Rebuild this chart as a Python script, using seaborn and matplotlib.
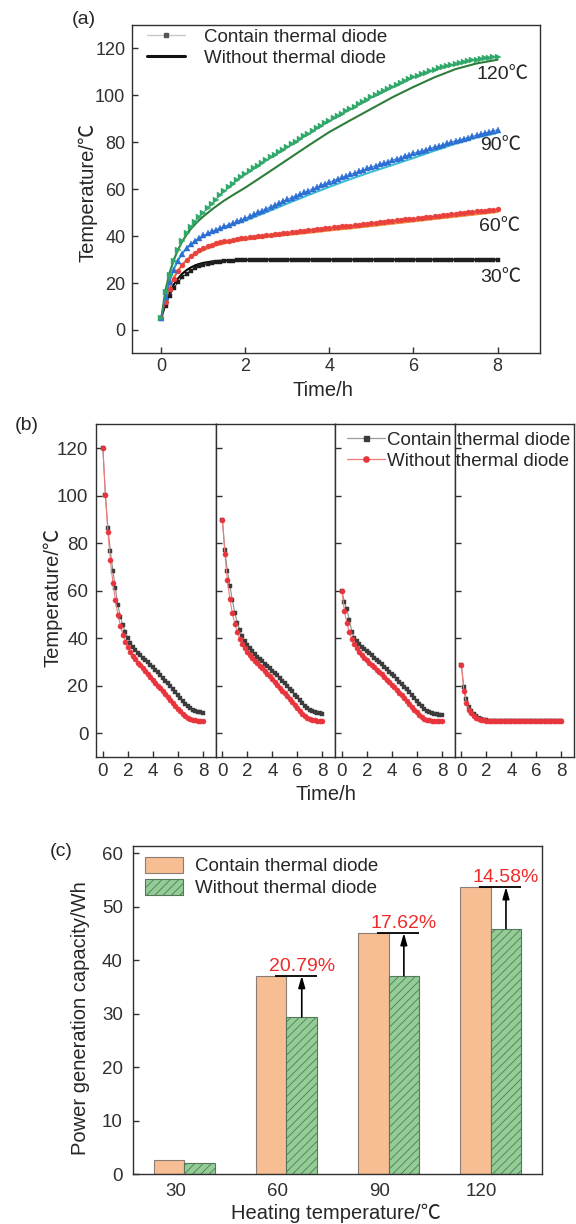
import numpy as np
import pandas as pd
import matplotlib
matplotlib.use("Agg")
import matplotlib.pyplot as plt
import matplotlib.transforms as mtransforms
from matplotlib.lines import Line2D
from matplotlib.patches import Patch
import seaborn as sns

sns.set_style("ticks")
plt.rcParams["font.family"] = ["Liberation Sans", "Noto Sans CJK SC", "DejaVu Sans"]
plt.rcParams["hatch.linewidth"] = 0.6
plt.rcParams["axes.edgecolor"] = "#303030"
plt.rcParams["axes.linewidth"] = 1.0
plt.rcParams["xtick.color"] = "#303030"
plt.rcParams["ytick.color"] = "#303030"

# ── (a) heating curves ──────────────────────────────────────────────────────
# markers: one point every 0.1 h from 0 to 8 h
a_contain_30 = [
    5.0, 10.3, 14.5, 17.8, 20.4, 22.4, 24.0, 25.3, 26.3, 27.1,
    27.7, 28.2, 28.6, 28.9, 29.1, 29.3, 29.4, 29.6, 29.7, 29.7,
    29.8, 29.8, 29.9, 29.9, 29.9, 29.9, 30.0, 30.0, 30.0, 30.0,
    30.0, 30.0, 30.0, 30.0, 30.0, 30.0, 30.0, 30.0, 30.0, 30.0,
    30.0, 30.0, 30.0, 30.0, 30.0, 30.0, 30.0, 30.0, 30.0, 30.0,
    30.0, 30.0, 30.0, 30.0, 30.0, 30.0, 30.0, 30.0, 30.0, 30.0,
    30.0, 30.0, 30.0, 30.0, 30.0, 30.0, 30.0, 30.0, 30.0, 30.0,
    30.0, 30.0, 30.0, 30.0, 30.0, 30.0, 30.0, 30.0, 30.0, 30.0,
    30.0,
]
a_contain_60 = [
    5.0, 11.9, 17.4, 21.7, 25.1, 27.8, 29.9, 31.6, 33.0, 34.1,
    35.0, 35.7, 36.4, 36.9, 37.4, 37.8, 38.1, 38.5, 38.8, 39.0,
    39.3, 39.5, 39.8, 40.0, 40.2, 40.4, 40.6, 40.8, 41.1, 41.3,
    41.5, 41.7, 41.9, 42.1, 42.3, 42.5, 42.7, 42.9, 43.1, 43.3,
    43.5, 43.7, 43.9, 44.1, 44.3, 44.5, 44.7, 44.9, 45.1, 45.3,
    45.5, 45.7, 45.9, 46.1, 46.3, 46.5, 46.7, 46.9, 47.1, 47.3,
    47.5, 47.7, 47.9, 48.1, 48.3, 48.5, 48.7, 48.9, 49.1, 49.3,
    49.5, 49.7, 49.9, 50.1, 50.3, 50.5, 50.7, 50.9, 51.1, 51.3,
    51.5,
]
a_contain_90 = [
    5.0, 14.0, 20.5, 25.5, 29.5, 32.5, 34.8, 36.6, 38.0, 39.2,
    40.3, 41.2, 42.0, 42.8, 43.5, 44.2, 44.9, 45.6, 46.3, 47.0,
    47.7, 48.5, 49.3, 50.1, 50.9, 51.7, 52.5, 53.3, 54.1, 54.9,
    55.7, 56.4, 57.2, 57.9, 58.6, 59.4, 60.1, 60.9, 61.6, 62.3,
    63.1, 63.7, 64.4, 65.0, 65.7, 66.3, 66.9, 67.6, 68.2, 68.9,
    69.5, 70.1, 70.6, 71.2, 71.8, 72.4, 73.0, 73.5, 74.1, 74.7,
    75.3, 75.8, 76.4, 76.9, 77.4, 78.0, 78.5, 79.0, 79.5, 80.1,
    80.6, 81.1, 81.6, 82.0, 82.5, 83.0, 83.5, 84.0, 84.4, 84.9,
    85.4,
]
a_contain_120 = [
    5.0, 16.0, 23.5, 29.3, 34.0, 38.0, 41.2, 43.9, 46.2, 48.2,
    50.0, 51.9, 53.8, 55.6, 57.4, 59.1, 60.8, 62.4, 63.9, 65.2,
    66.5, 67.7, 68.9, 70.1, 71.3, 72.4, 73.6, 74.7, 75.8, 76.9,
    78.0, 79.1, 80.3, 81.4, 82.5, 83.6, 84.8, 85.9, 87.0, 88.1,
    89.2, 90.2, 91.2, 92.2, 93.2, 94.2, 95.2, 96.2, 97.2, 98.2,
    99.2, 100.1, 101.0, 101.9, 102.8, 103.7, 104.5, 105.3, 106.1, 106.9,
    107.7, 108.4, 109.1, 109.7, 110.3, 110.9, 111.5, 112.0, 112.5, 113.0,
    113.4, 113.8, 114.2, 114.6, 114.9, 115.2, 115.5, 115.8, 116.1, 116.3,
    116.5,
]
time_a = np.arange(len(a_contain_30)) / 10

# solid lines (without thermal diode)
time_line = [0, 0.1, 0.2, 0.3, 0.4, 0.5, 0.6, 0.7, 0.8, 0.9, 1.0, 1.25, 1.5, 1.75,
             2.0, 2.5, 3.0, 3.5, 4.0, 4.5, 5.0, 5.5, 6.0, 6.5, 7.0, 7.5, 8.0]
a_without_30 = [5.0, 11.2, 15.9, 19.4, 22.0, 24.0, 25.5, 26.6, 27.5, 28.1, 28.6, 29.3, 29.6, 29.8,
                29.9, 30.0, 30.0, 30.0, 30.0, 30.0, 30.0, 30.0, 30.0, 30.0, 30.0, 30.0, 30.0]
a_without_60 = [5.0, 13.0, 18.5, 22.5, 25.5, 27.8, 29.6, 31.0, 32.2, 33.2, 34.0, 35.8, 36.9, 37.8,
                38.5, 39.6, 40.5, 41.4, 42.4, 43.3, 44.3, 45.3, 46.3, 47.3, 48.3, 49.3, 50.3]
a_without_90 = [5.0, 15.0, 21.5, 26.3, 30.0, 32.7, 34.8, 36.4, 37.7, 38.8, 39.8, 42.0, 43.7, 45.2,
                46.6, 50.2, 53.9, 57.5, 61.0, 64.3, 67.4, 70.3, 73.3, 76.4, 79.4, 82.0, 84.0]
a_without_120 = [5.0, 17.0, 24.5, 30.0, 34.3, 37.8, 40.6, 43.0, 45.0, 46.8, 48.4, 52.0, 55.2, 58.0,
                 60.7, 66.6, 72.6, 78.6, 84.4, 89.4, 94.3, 99.2, 103.6, 107.7, 111.2, 113.6, 115.2]

# ── (b) cooling curves, one point every 0.2 h ───────────────────────────────
b_contain_120 = [
    120.0, 100.5, 86.6, 76.6, 68.4, 61.0, 54.0, 49.0, 45.5, 42.5,
    40.2, 38.2, 36.5, 35.2, 34.0, 32.9, 31.9, 30.9, 29.9, 28.9,
    27.9, 26.8, 25.7, 24.6, 23.4, 22.2, 21.0, 19.8, 18.5, 17.2,
    16.0, 14.7, 13.5, 12.4, 11.4, 10.6, 9.9, 9.4, 9.0, 8.8, 8.6,
]
b_without_120 = [
    120.0, 100.5, 84.8, 72.8, 63.4, 56.0, 50.0, 45.3, 41.5, 38.5,
    36.2, 34.3, 32.6, 31.1, 29.8, 28.6, 27.4, 26.2, 25.0, 23.8,
    22.5, 21.3, 20.1, 18.9, 17.7, 16.5, 15.2, 14.0, 12.8, 11.6,
    10.4, 9.2, 8.0, 7.1, 6.4, 5.9, 5.6, 5.4, 5.3, 5.2, 5.2,
]
b_contain_90 = [
    90.0, 77.0, 68.4, 62.0, 56.0, 50.5, 46.5, 43.3, 40.8, 38.8,
    37.2, 35.8, 34.5, 33.4, 32.3, 31.3, 30.3, 29.3, 28.4, 27.4,
    26.4, 25.4, 24.4, 23.3, 22.2, 21.1, 20.0, 18.8, 17.6, 16.3,
    15.1, 13.9, 12.7, 11.6, 10.7, 9.9, 9.3, 8.9, 8.6, 8.4, 8.3,
]
b_without_90 = [
    90.0, 75.6, 64.4, 56.4, 50.5, 46.0, 42.5, 39.8, 37.6, 35.8,
    34.3, 33.0, 31.8, 30.6, 29.5, 28.4, 27.3, 26.2, 25.1, 24.0,
    22.8, 21.6, 20.4, 19.2, 18.0, 16.8, 15.6, 14.4, 13.2, 12.0,
    10.6, 9.3, 8.1, 7.2, 6.5, 6.0, 5.6, 5.4, 5.3, 5.2, 5.2,
]
b_contain_60 = [
    60.0, 55.4, 52.2, 47.6, 42.7, 40.2, 38.8, 37.6, 36.5, 35.6,
    34.8, 33.8, 32.8, 31.9, 30.9, 30.0, 29.0, 28.0, 27.0, 26.0,
    25.0, 24.0, 22.9, 21.8, 20.7, 19.6, 18.5, 17.3, 16.1, 14.9,
    13.7, 12.5, 11.4, 10.4, 9.6, 9.0, 8.5, 8.2, 8.0, 7.9, 7.8,
]
b_without_60 = [
    60.0, 51.5, 46.5, 42.5, 39.9, 37.6, 35.8, 34.2, 32.9, 31.8,
    30.8, 29.8, 28.8, 27.8, 26.8, 25.8, 24.8, 23.7, 22.6, 21.5,
    20.4, 19.3, 18.2, 17.1, 16.0, 14.8, 13.6, 12.4, 11.2, 10.0,
    8.9, 7.8, 6.9, 6.2, 5.7, 5.4, 5.2, 5.1, 5.1, 5.0, 5.0,
]
b_contain_30 = [
    28.7, 19.5, 14.3, 11.2, 9.5, 8.2, 7.3, 6.6, 6.1, 5.8,
    5.5, 5.3, 5.2, 5.1, 5.0, 5.0, 5.0, 5.0, 5.0, 5.0,
    5.0, 5.0, 5.0, 5.0, 5.0, 5.0, 5.0, 5.0, 5.0, 5.0,
    5.0, 5.0, 5.0, 5.0, 5.0, 5.0, 5.0, 5.0, 5.0, 5.0, 5.0,
]
b_without_30 = [
    28.7, 17.8, 12.8, 10.0, 8.4, 7.3, 6.6, 6.1, 5.7, 5.4,
    5.2, 5.1, 5.0, 5.0, 5.0, 5.0, 5.0, 5.0, 5.0, 5.0,
    5.0, 5.0, 5.0, 5.0, 5.0, 5.0, 5.0, 5.0, 5.0, 5.0,
    5.0, 5.0, 5.0, 5.0, 5.0, 5.0, 5.0, 5.0, 5.0, 5.0, 5.0,
]
time_b = np.arange(len(b_contain_120)) / 5

# ── (c) power generation ────────────────────────────────────────────────────
heat_labels = ["30", "60", "90", "120"]
power_contain = [2.7, 37.1, 45.1, 53.7]
power_without = [2.2, 29.4, 37.1, 45.9]
gain_labels = ["", "20.79%", "17.62%", "14.58%"]

label_contain = "Contain thermal diode"
label_without = "Without thermal diode"

# ── figure / axes placement (pixel boxes) ───────────────────────────────────
W, H = 576, 1224
fig = plt.figure(figsize=(W / 100, H / 100), dpi=100)


def px_axes(left, top, right, bottom):
    return fig.add_axes([left / W, 1 - bottom / H, (right - left) / W, (bottom - top) / H])


FS_TICK = 13
FS_LAB = 14.5
FS_LEG = 13.5

# ── (a) ─────────────────────────────────────────────────────────────────────
ax_a = px_axes(132.3, 25, 540, 352.7)
a_styles = [
    # contain series, without series, marker colour, line colour, marker, size
    (a_contain_30, a_without_30, "#1e1e1e", "#000000", "s", 3.3),
    (a_contain_60, a_without_60, "#e8413c", "#f28a3a", "o", 3.6),
    (a_contain_90, a_without_90, "#2e6fd4", "#3dbcd4", "^", 4.3),
    (a_contain_120, a_without_120, "#2fa86a", "#2e7d3a", ">", 4.3),
]
for contain, without, mcol, lcol, mk, ms in a_styles:
    sns.lineplot(x=time_line, y=without, ax=ax_a, color=lcol, lw=1.5,
                 estimator=None, legend=False)
for contain, without, mcol, lcol, mk, ms in a_styles:
    sns.lineplot(x=time_a, y=contain, ax=ax_a, color=mcol, lw=0.6, marker=mk,
                 markersize=ms, markerfacecolor=mcol, markeredgecolor=mcol,
                 markeredgewidth=0.3, estimator=None, legend=False)

ax_a.set_xlim(-0.69, 9.01)
ax_a.set_ylim(-9.7, 130)
ax_a.set_xticks([0, 2, 4, 6, 8])
ax_a.set_yticks([0, 20, 40, 60, 80, 100, 120])
ax_a.set_xlabel("")
ax_a.set_ylabel("")
ax_a.tick_params(direction="in", length=4, width=1.0, labelsize=FS_TICK)
ax_a.tick_params(axis="x", pad=4)
ax_a.tick_params(axis="y", pad=5)

for txt, tx, ty in [("120℃", 7.5, 109.1), ("90℃", 7.58, 78.5),
                    ("60℃", 7.56, 44.3), ("30℃", 7.58, 22.3)]:
    ax_a.text(tx, ty, txt, ha="left", va="center", fontsize=14)

leg_a = [Line2D([], [], color="#c8c8c8", lw=1.0, marker="s", markersize=3,
                markerfacecolor="#555555", markeredgecolor="#555555"),
         Line2D([], [], color="#111111", lw=2.2)]
ax_a.legend(leg_a, [label_contain, label_without], loc="upper left",
            bbox_to_anchor=(0.036, 0.989), frameon=False, fontsize=FS_LEG,
            handlelength=2.03, handletextpad=1.0, labelspacing=0.22,
            borderpad=0, borderaxespad=0)

fig.text(84 / W, 1 - 20 / H, "(a)", ha="center", va="center", fontsize=14)
fig.text(88 / W, 1 - 192 / H, "Temperature/℃", rotation=90, ha="center",
         va="center", fontsize=FS_LAB)
fig.text(323 / W, 1 - 391 / H, "Time/h", ha="center", va="center", fontsize=FS_LAB)

# ── (b) ─────────────────────────────────────────────────────────────────────
b_contain = [b_contain_120, b_contain_90, b_contain_60, b_contain_30]
b_without = [b_without_120, b_without_90, b_without_60, b_without_30]
b_left, b_right = 96, 574
b_w = (b_right - b_left) / 4
axes_b = []
for k in range(4):
    ax = px_axes(b_left + k * b_w, 424, b_left + (k + 1) * b_w, 757.3)
    sns.lineplot(x=time_b, y=b_contain[k], ax=ax, color="#8c8c8c", lw=0.8,
                 marker="s", markersize=3.5, markerfacecolor="#3c3c3c",
                 markeredgecolor="#3c3c3c", markeredgewidth=0.3,
                 estimator=None, legend=False)
    sns.lineplot(x=time_b, y=b_without[k], ax=ax, color="#f07a7a", lw=0.8,
                 marker="o", markersize=3.7, markerfacecolor="#e8343c",
                 markeredgecolor="#e8343c", markeredgewidth=0.3,
                 estimator=None, legend=False)
    ax.set_xlim(-0.55, 9.0)
    ax.set_ylim(-10.1, 130.2)
    ax.set_xticks([0, 2, 4, 6, 8])
    ax.set_yticks([0, 20, 40, 60, 80, 100, 120])
    ax.set_xlabel("")
    ax.set_ylabel("")
    ax.tick_params(direction="in", length=4, width=1.0, labelsize=13.5)
    ax.tick_params(axis="x", pad=4)
    ax.tick_params(axis="y", pad=5.5)
    if k > 0:
        ax.tick_params(axis="y", labelleft=False)
    axes_b.append(ax)

leg_b = [Line2D([], [], color="#9a9a9a", lw=0.9, marker="s", markersize=3.6,
                markerfacecolor="#3c3c3c", markeredgecolor="#3c3c3c"),
         Line2D([], [], color="#f07a7a", lw=0.9, marker="o", markersize=3.8,
                markerfacecolor="#e8343c", markeredgecolor="#e8343c")]
fig.legend(leg_b, [label_contain, label_without], loc="upper left",
           bbox_to_anchor=(347 / W, 1 - 431.5 / H), frameon=False,
           fontsize=FS_LEG, handlelength=2.03, handletextpad=0.1,
           labelspacing=0.2, borderpad=0, borderaxespad=0)

fig.text(26.6 / W, 1 - 426 / H, "(b)", ha="center", va="center", fontsize=14)
fig.text(52.5 / W, 1 - 597 / H, "Temperature/℃", rotation=90, ha="center",
         va="center", fontsize=FS_LAB)
fig.text(326 / W, 1 - 794 / H, "Time/h", ha="center", va="center", fontsize=FS_LAB)

# ── (c) ─────────────────────────────────────────────────────────────────────
ax_c = px_axes(133.3, 845.7, 541.7, 1174.3)
df_c = pd.DataFrame({
    "temp": heat_labels * 2,
    "power": power_contain + power_without,
    "type": [label_contain] * 4 + [label_without] * 4,
})
col_orange, col_green = "#f6be92", "#93cd96"
edge_orange, edge_green = "#8a7d75", "#55775a"
sns.barplot(data=df_c, x="temp", y="power", hue="type", order=heat_labels,
            hue_order=[label_contain, label_without],
            palette=[col_orange, col_green], saturation=1, width=0.6, gap=0,
            errorbar=None, linewidth=0.8, edgecolor=edge_orange,
            legend=False, ax=ax_c)
for bar in ax_c.containers[1]:
    bar.set_hatch("////")
    bar.set_edgecolor(edge_green)

bar_w = 0.3
for i, (cval, wval, lab) in enumerate(zip(power_contain, power_without, gain_labels)):
    if not lab:
        continue
    # reference line from the contain bar across the without bar
    ax_c.hlines(cval, i - 0.116, i + bar_w, color="black", lw=1.3, zorder=4)
    ax_c.annotate("", xy=(i + bar_w / 2, cval), xytext=(i + bar_w / 2, wval),
                  arrowprops=dict(arrowstyle="-|>,head_length=0.7,head_width=0.2",
                                  color="black", lw=1.2, mutation_scale=10,
                                  shrinkA=0, shrinkB=0), zorder=4)
    ax_c.text(i + bar_w / 2, cval + 0.95, lab, ha="center", va="baseline",
              color="#ee2b2b", fontsize=14)

ax_c.set_xlim(-0.5, 3.5)
ax_c.set_ylim(0, 61.4)
ax_c.set_yticks([0, 10, 20, 30, 40, 50, 60])
ax_c.set_xlabel("")
ax_c.set_ylabel("")
ax_c.tick_params(direction="in", labelsize=13.5)
ax_c.tick_params(axis="x", length=0, pad=6)
ax_c.tick_params(axis="y", length=4, width=1.0, pad=7.5)
shift = mtransforms.ScaledTranslation(-9 / 100, 0, fig.dpi_scale_trans)
for lbl in ax_c.get_xticklabels():
    lbl.set_transform(lbl.get_transform() + shift)

leg_c = [Patch(facecolor=col_orange, edgecolor=edge_orange, lw=0.8),
         Patch(facecolor=col_green, edgecolor=edge_green, lw=0.8, hatch="////")]
ax_c.legend(leg_c, [label_contain, label_without], loc="upper left",
            bbox_to_anchor=(0.0287, 0.965), frameon=False, fontsize=FS_LEG,
            handlelength=2.0, handleheight=0.9, handletextpad=0.68,
            labelspacing=0.2, borderpad=0, borderaxespad=0)

fig.text(61 / W, 1 - 852 / H, "(c)", ha="center", va="center", fontsize=14)
fig.text(81 / W, 1 - 1018 / H, "Power generation capacity/Wh", rotation=90,
         ha="center", va="center", fontsize=FS_LAB)
fig.text(336 / W, 1 - 1213 / H, "Heating temperature/℃", ha="center",
         va="center", fontsize=FS_LAB)

fig.savefig("out.png", dpi=100)
plt.close(fig)
print("out.png")
